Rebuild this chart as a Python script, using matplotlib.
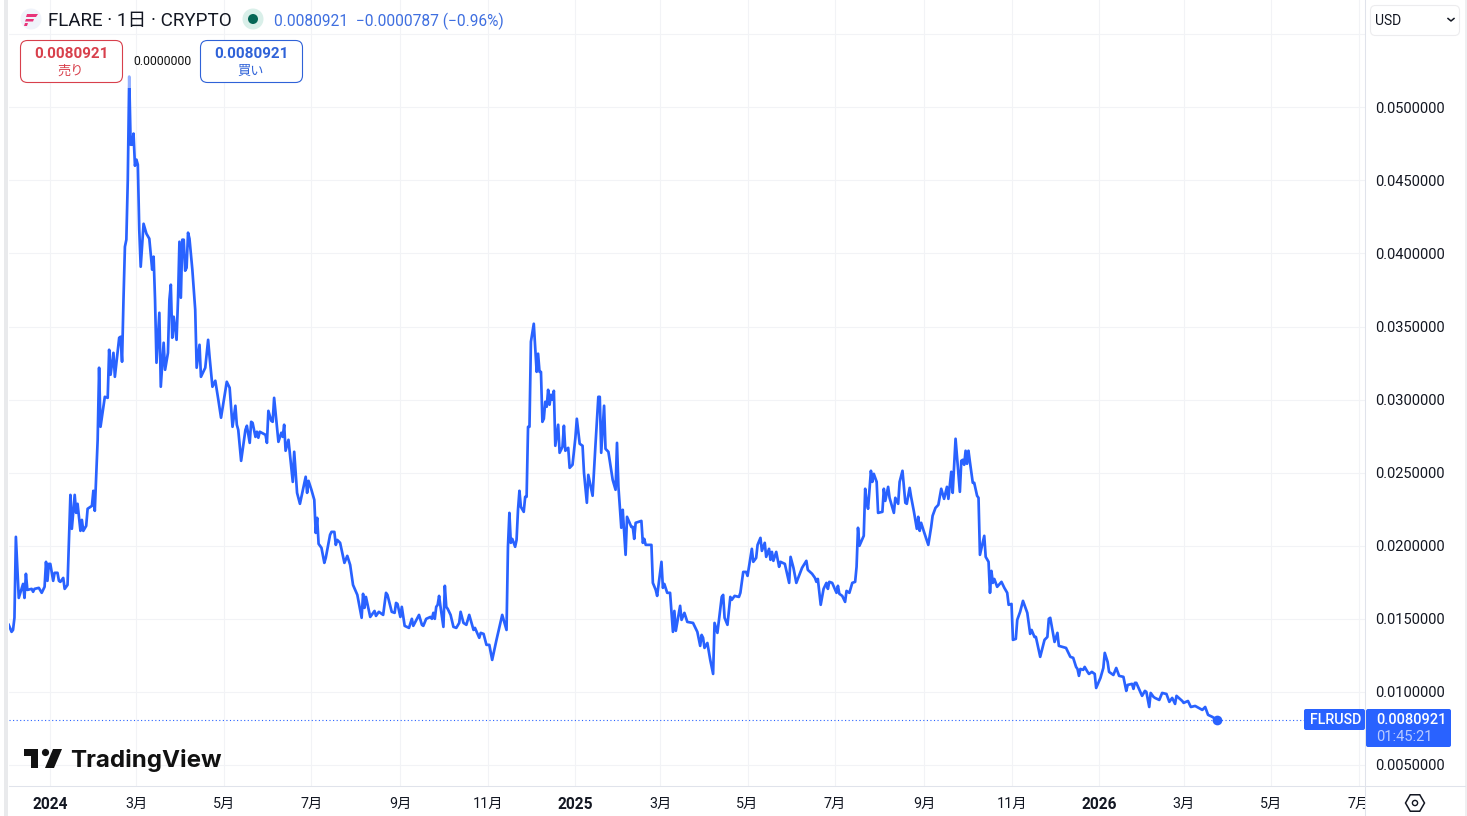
"""FLR/USD daily chart in the style of a TradingView widget."""

import math

import matplotlib

matplotlib.use("Agg")
import matplotlib.pyplot as plt
from matplotlib.patches import Circle, FancyBboxPatch, Polygon, Rectangle, RegularPolygon
import pandas as pd


# days since 2024-01-01 and closing price
start_date = "2024-01-01"
days = [
    -29, -27, -26, -25, -24, -22, -19, -18, -17, -16,
    -13, -12, -11, -8, -6, -4, -3, -2, -1, 0,
    2, 3, 5, 6, 7, 9, 10, 12, 14, 15,
    17, 18, 19, 21, 22, 23, 25, 26, 29, 30,
    31, 33, 34, 35, 37, 38, 40, 41, 42, 44,
    45, 48, 49, 50, 51, 52, 53, 54, 55, 56,
    57, 58, 59, 60, 61, 62, 63, 65, 67, 69,
    71, 72, 73, 74, 76, 77, 79, 80, 82, 83,
    84, 85, 86, 88, 89, 90, 91, 92, 93, 94,
    95, 96, 97, 99, 101, 102, 104, 105, 108, 110,
    111, 113, 115, 117, 119, 123, 125, 127, 129, 130,
    131, 133, 136, 137, 139, 140, 141, 143, 144, 145,
    146, 150, 151, 152, 154, 155, 156, 159, 161, 162,
    163, 164, 166, 169, 170, 172, 174, 178, 179, 180,
    182, 184, 185, 186, 187, 189, 191, 192, 195, 196,
    198, 199, 200, 202, 205, 207, 209, 211, 214, 217,
    218, 219, 220, 223, 226, 227, 229, 232, 234, 235,
    238, 240, 241, 242, 244, 245, 247, 250, 252, 253,
    257, 259, 260, 262, 265, 266, 267, 268, 269, 270,
    271, 272, 274, 275, 276, 277, 279, 281, 283, 285,
    286, 288, 290, 292, 295, 296, 299, 300, 302, 304,
    306, 308, 311, 315, 318, 319, 320, 321, 322, 324,
    325, 326, 327, 328, 330, 331, 332, 333, 334, 335,
    337, 339, 340, 341, 342, 343, 344, 345, 346, 347,
    348, 349, 350, 351, 352, 354, 355, 357, 358, 359,
    361, 362, 364, 366, 367, 369, 371, 372, 374, 375,
    378, 380, 382, 383, 384, 386, 387, 389, 392, 394,
    395, 396, 398, 399, 401, 402, 405, 406, 407, 408,
    412, 413, 414, 415, 419, 420, 422, 423, 426, 427,
    428, 430, 432, 434, 435, 436, 439, 440, 442, 444,
    448, 451, 453, 454, 455, 456, 458, 460, 462, 463,
    465, 468, 469, 470, 472, 474, 475, 477, 480, 481,
    483, 485, 486, 489, 490, 492, 493, 495, 496, 498,
    499, 501, 502, 503, 504, 506, 508, 509, 512, 514,
    515, 516, 518, 520, 524, 527, 528, 531, 533, 534,
    535, 537, 539, 541, 542, 543, 545, 548, 549, 550,
    552, 554, 555, 557, 559, 561, 562, 563, 564, 567,
    568, 569, 570, 572, 573, 574, 576, 577, 580, 581,
    582, 584, 585, 588, 589, 591, 592, 594, 596, 597,
    599, 600, 602, 604, 605, 606, 607, 609, 612, 614,
    615, 617, 619, 621, 623, 625, 626, 628, 629, 631,
    634, 635, 636, 637, 638, 639, 640, 641, 643, 644,
    646, 647, 648, 651, 652, 654, 655, 656, 657, 658,
    660, 663, 665, 667, 668, 670, 671, 673, 674, 676,
    678, 681, 683, 684, 686, 687, 690, 693, 695, 696,
    697, 700, 702, 703, 708, 711, 713, 715, 716, 717,
    718, 720, 721, 723, 724, 726, 728, 729, 732, 734,
    735, 737, 738, 741, 743, 745, 748, 750, 751, 754,
    755, 756, 757, 761, 763, 764, 766, 767, 769, 770,
    773, 775, 778, 780, 782, 784, 785, 789, 790, 793,
    795, 798, 803, 805, 807, 810, 813,
]
prices = [
    .01459, .01411, .01424, .01507, .02061, .01643, .01739, .01643, .01808, .01698,
    .01705, .01685, .01705, .01712, .01678, .01719, .01890, .01760, .01876, .01876,
    .01760, .01815, .01815, .01760, .01753, .01780, .01705, .01732, .02348, .02116,
    .02348, .02225, .02287, .02102, .02177, .02102, .02136, .02253, .02273, .02376,
    .02239, .02725, .03218, .02814, .02951, .03019, .03012, .03341, .03170, .03320,
    .03156, .03423, .03430, .03259, .03683, .04046, .04094, .04505, .05210, .04744,
    .04744, .04820, .04600, .04642, .04607, .04162, .03909, .04203, .04135, .04101,
    .03889, .03978, .03683, .03252, .03594, .03088, .03389, .03204, .03320, .03683,
    .03786, .03423, .03567, .03409, .03683, .04080, .03697, .04094, .04094, .03882,
    .03902, .04142, .04101, .03889, .03615, .03218, .03375, .03156, .03218, .03409,
    .03293, .03088, .03129, .03006, .02876, .03122, .03081, .02814, .02958, .02828,
    .02793, .02581, .02793, .02821, .02704, .02848, .02841, .02745, .02780, .02739,
    .02780, .02759, .02704, .02923, .02855, .02848, .03012, .02711, .02773, .02745,
    .02828, .02650, .02725, .02437, .02643, .02362, .02287, .02472, .02362, .02444,
    .02383, .02314, .02088, .02191, .02013, .01986, .01883, .01917, .02075, .02095,
    .02095, .02006, .02040, .02020, .01883, .01931, .01869, .01732, .01664, .01507,
    .01671, .01575, .01650, .01513, .01554, .01520, .01548, .01527, .01678, .01664,
    .01548, .01541, .01609, .01602, .01513, .01582, .01452, .01438, .01500, .01452,
    .01527, .01459, .01452, .01500, .01513, .01500, .01541, .01500, .01582, .01596,
    .01657, .01582, .01445, .01726, .01582, .01568, .01527, .01445, .01438, .01472,
    .01548, .01472, .01459, .01527, .01424, .01438, .01370, .01404, .01397, .01322,
    .01322, .01219, .01356, .01527, .01424, .01993, .02225, .02020, .02047, .01993,
    .02040, .02246, .02376, .02266, .02232, .02335, .02335, .02814, .02814, .03396,
    .03519, .03190, .03314, .03190, .03190, .02848, .02869, .02985, .02951, .03067,
    .02965, .03033, .02999, .03060, .02684, .02828, .02636, .02677, .02821, .02650,
    .02670, .02533, .02554, .02739, .02869, .02698, .02684, .02499, .02294, .02485,
    .02342, .02690, .03019, .03019, .02636, .02958, .02663, .02643, .02451, .02383,
    .02704, .02403, .02123, .02246, .01938, .02198, .02129, .02129, .02047, .02157,
    .02170, .02020, .02047, .02006, .02006, .01746, .01698, .01657, .01890, .01712,
    .01739, .01678, .01678, .01411, .01554, .01418, .01589, .01493, .01541, .01479,
    .01472, .01411, .01315, .01390, .01370, .01301, .01335, .01219, .01123, .01472,
    .01404, .01650, .01664, .01507, .01459, .01650, .01630, .01657, .01650, .01678,
    .01821, .01821, .01794, .01979, .01890, .01917, .02006, .02054, .01965, .02020,
    .01924, .01979, .01904, .01958, .01897, .01958, .01856, .01890, .01876, .01787,
    .01746, .01924, .01849, .01746, .01849, .01897, .01835, .01808, .01780, .01753,
    .01773, .01596, .01705, .01746, .01705, .01753, .01746, .01678, .01726, .01671,
    .01657, .01616, .01691, .01678, .01746, .01753, .01856, .02123, .02000, .02068,
    .02390, .02300, .02253, .02513, .02437, .02492, .02437, .02225, .02232, .02390,
    .02307, .02403, .02328, .02225, .02328, .02287, .02437, .02513, .02294, .02287,
    .02396, .02335, .02232, .02116, .02198, .02102, .02157, .02095, .02006, .02129,
    .02205, .02259, .02280, .02390, .02321, .02403, .02321, .02506, .02362, .02732,
    .02369, .02581, .02588, .02554, .02650, .02561, .02650, .02574, .02431, .02431,
    .02342, .02328, .01938, .02068, .01924, .01890, .01678, .01828, .01746, .01773,
    .01719, .01753, .01712, .01678, .01596, .01602, .01356, .01363, .01493, .01548,
    .01623, .01541, .01397, .01424, .01376, .01376, .01240, .01356, .01376, .01500,
    .01507, .01342, .01404, .01315, .01301, .01240, .01233, .01171, .01157, .01110,
    .01157, .01151, .01171, .01137, .01123, .01137, .01123, .01027, .01096, .01164,
    .01267, .01205, .01137, .01116, .01164, .01110, .01103, .01007, .01048, .01055,
    .01021, .01062, .01062, .00973, .01007, .01000, .00897, .00993, .00966, .00959,
    .00945, .00993, .00986, .00932, .00959, .00918, .00973, .00938, .00925, .00938,
    .00897, .00904, .00877, .00897, .00843, .00829, .0080921,
]

price_ticks = [.005, .010, .015, .020, .025, .030, .035, .040, .045, .050, .055]
date_ticks = [
    "2024-01-01", "2024-03-01", "2024-05-01", "2024-07-01", "2024-09-01", "2024-11-01",
    "2025-01-01", "2025-03-01", "2025-05-01", "2025-07-01", "2025-09-01", "2025-11-01",
    "2026-01-01", "2026-03-01", "2026-05-01", "2026-07-01",
]
date_labels = [
    "2024", "3月", "5月", "7月", "9月", "11月",
    "2025", "3月", "5月", "7月", "9月", "11月",
    "2026", "3月", "5月", "7月",
]

last_price = prices[-1]
last_text = f"{last_price:.7f}"

BLUE = "#2962ff"
RED = "#d8404c"
INK = "#131722"
GRID = "#f2f3f6"
EDGE = "#e0e3eb"
WIDTH, HEIGHT = 1467, 816
PLOT_LEFT, PLOT_RIGHT, PLOT_BOTTOM = 9, 1365, 786

plt.rcParams["font.family"] = ["Roboto", "Noto Sans CJK JP", "DejaVu Sans"]

fig = plt.figure(figsize=(WIDTH / 100, HEIGHT / 100), dpi=100)
ax = fig.add_axes([
    PLOT_LEFT / WIDTH,
    1 - PLOT_BOTTOM / HEIGHT,
    (PLOT_RIGHT - PLOT_LEFT) / WIDTH,
    PLOT_BOTTOM / HEIGHT,
])

origin = pd.Timestamp(start_date)
dates = origin + pd.to_timedelta(days, unit="D")

ax.plot(dates, prices, color=BLUE, lw=1.95, solid_joinstyle="round", zorder=3)
ax.plot(dates[-1], last_price, "o", color=BLUE, ms=7, mew=0, zorder=4)
ax.axhline(last_price, color=BLUE, lw=0.8, ls=(0, (1, 2.2)), zorder=2)

ax.set_xlim(origin + pd.Timedelta(days=-28.8), origin + pd.Timedelta(days=916.4))
ax.set_ylim(0.003563, 0.05734)
ax.grid(True, color=GRID, lw=0.75)
ax.set_axisbelow(True)
for spine in ax.spines.values():
    spine.set_visible(False)

ax.yaxis.tick_right()
ax.set_yticks(price_ticks)
ax.set_yticklabels([f"{v:.7f}" if v < 0.055 else "" for v in price_ticks], fontsize=10.5, color=INK)
ax.tick_params(axis="y", length=0, pad=7.3)

ax.set_xticks(pd.to_datetime(date_ticks))
ax.set_xticklabels(date_labels, fontsize=10.3, color=INK)
ax.tick_params(axis="x", length=0, pad=7.6)
for tick_label in ax.get_xticklabels():
    if len(tick_label.get_text()) == 4:
        tick_label.set_fontweight("bold")
        tick_label.set_fontsize(11.2)

# everything around the plot is laid out in screen pixels on a top overlay
ui = fig.add_axes([0, 0, 1, 1], zorder=5)
ui.set_xlim(0, WIDTH)
ui.set_ylim(HEIGHT, 0)
ui.axis("off")


def rounded(x0, y0, x1, y1, radius, face, edge="none", lw=0.8):
    ui.add_patch(FancyBboxPatch(
        (x0, y0), x1 - x0, y1 - y0,
        boxstyle=f"round,pad=0,rounding_size={radius}",
        fc=face, ec=edge, lw=lw,
    ))


def label(x, y, text, size, color=INK, ha="left", **kwargs):
    ui.text(x, y + 1, text, fontsize=size, color=color, ha=ha, va="center", **kwargs)


# frame
ui.add_patch(Rectangle((4, 0), 4, HEIGHT, fc="#e9eaec", ec="none"))
ui.add_patch(Rectangle((1465, 0), 2, HEIGHT, fc="#efeff1", ec="none"))
ui.add_patch(Rectangle((PLOT_RIGHT + 1, PLOT_BOTTOM + 1), 99, 29, fc="white", ec="none"))
ui.plot([PLOT_LEFT, 1465], [PLOT_BOTTOM, PLOT_BOTTOM], color=EDGE, lw=0.75)
ui.plot([PLOT_RIGHT, PLOT_RIGHT], [0, HEIGHT], color=EDGE, lw=0.75)

# top of the spike fades under the legend
ui.add_patch(Rectangle((127, 75), 6, 13, fc="white", ec="none", alpha=0.5))

# symbol row
ui.add_patch(Circle((31, 19), 10.5, fc="#f0f3fa", ec="none"))
ui.add_patch(Polygon([(27, 14), (38, 14), (36, 17), (26, 17)], fc="#e8347a", ec="none"))
ui.add_patch(Polygon([(26, 19), (34, 19), (33, 21.5), (25, 21.5)], fc="#e8347a", ec="none"))
ui.add_patch(Polygon([(25, 23), (28, 23), (27, 26), (24, 26)], fc="#e8347a", ec="none"))
label(48, 20, "FLARE · 1日 · CRYPTO", 13.55)
ui.add_patch(Circle((253, 19), 10.5, fc="#d9efe9", ec="none"))
ui.add_patch(Circle((253, 19), 5, fc="#056656", ec="none"))
label(274, 20, f"{last_text}  −0.0000787 (−0.96%)", 11.2, color="#3f6fe0")

# sell / buy buttons
rounded(20.5, 40.5, 122.5, 82.5, 7, "white", edge=RED)
label(71, 53, last_text, 11, color=RED, ha="center", fontweight="bold")
label(71, 70, "売り", 9.5, color=RED, ha="center")
label(133, 60.5, "0.0000000", 8.8, color="#111111")
rounded(200.5, 40.5, 302.5, 82.5, 7, "white", edge="#2f62d8")
label(251, 53, last_text, 11, color="#2f62d8", ha="center", fontweight="bold")
label(251, 70, "買い", 9.5, color="#2f62d8", ha="center")

# currency selector
rounded(1370.5, 5.5, 1459.5, 35.5, 5, "white", edge="#ececee")
label(1375, 20, "USD", 10, color=INK)
ui.plot([1448, 1451, 1454], [18.5, 21, 18.5], color=INK, lw=1.1)

# last price tags
rounded(1304, 709, 1365, 730, 2, BLUE)
label(1335.5, 719, "FLRUSD", 10.3, color="white", ha="center", fontweight="medium")
rounded(1366, 709, 1451, 747, 2, BLUE)
label(1376, 719, last_text, 10.5, color="white", fontweight="medium")
label(1376, 736, "01:45:21", 10.5, color="#b9cbff")

# watermark
ui.add_patch(Polygon(
    [(24, 749), (38, 749), (38, 768), (31, 768), (31, 756), (24, 756)],
    fc="#111111", ec="none",
))
ui.add_patch(Circle((45.5, 752.5), 3.6, fc="#111111", ec="none"))
ui.add_patch(Polygon([(53, 749), (62, 749), (54, 768), (45, 768)], fc="#111111", ec="none"))
ui.text(70, 760, "TradingView", fontsize=17.4, family="Inter", fontweight="bold",
        color="#111111", ha="left", va="center")

# settings icon
ui.add_patch(RegularPolygon((1415, 803), 6, radius=9.5, orientation=math.pi / 2,
                            fc="none", ec=INK, lw=1.1))
ui.add_patch(Circle((1415, 803), 2.6, fc="none", ec=INK, lw=1.0))

fig.savefig("out.png", dpi=100, facecolor="white")
